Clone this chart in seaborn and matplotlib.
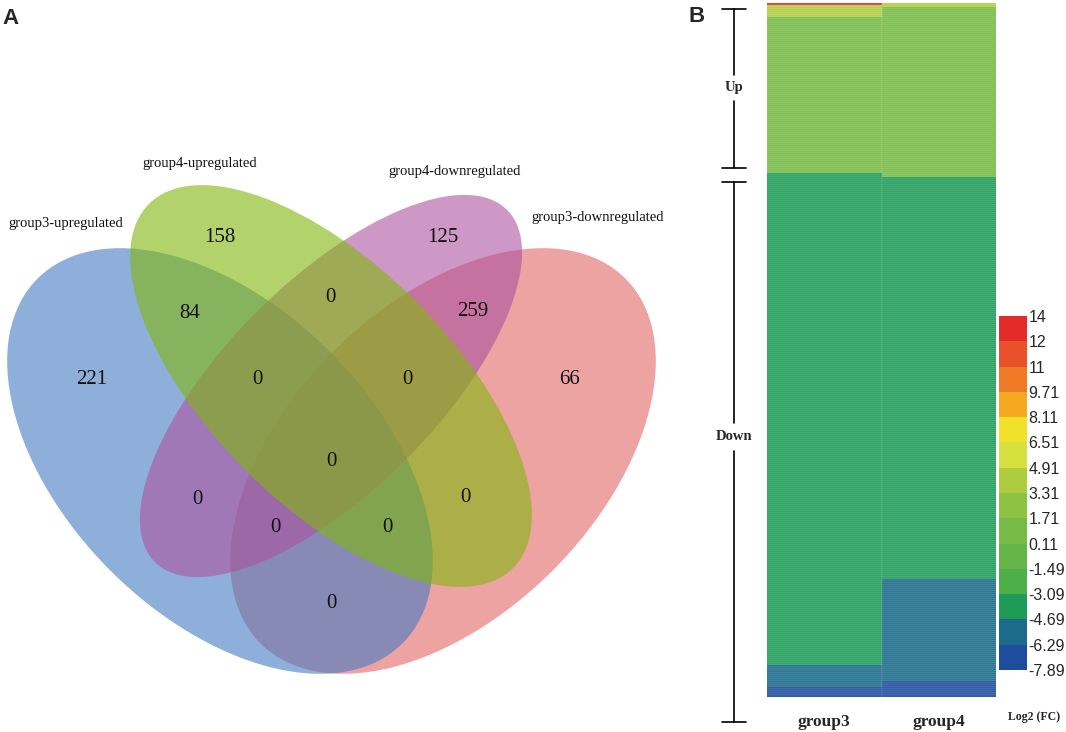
import numpy as np
import pandas as pd
import matplotlib
matplotlib.use("Agg")
import matplotlib.pyplot as plt
import seaborn as sns
from matplotlib.patches import Ellipse
from matplotlib.colors import ListedColormap, BoundaryNorm

# ---------------- data ----------------
# Venn (panel A)
set_names = ["group3-upregulated", "group4-upregulated",
             "group4-downregulated", "group3-downregulated"]
region_keys = ["A", "B", "C", "D", "AB", "BC", "CD", "ABC", "BCD",
               "AC", "BD", "ABCD", "ACD", "ABD", "AD"]
region_counts = [221, 158, 125, 66, 84, 0, 259, 0, 0, 0, 0, 0, 0, 0, 0]

# Heatmap (panel B): blocks of consecutive genes with their log2 FC
heat_columns = ["group3", "group4"]
block_rows = [1, 1, 5, 78, 2, 201, 43, 8, 3, 5]
group3_log2fc = [13.0, 4.0, 4.0, 1.0, -3.9, -3.9, -3.9, -5.5, -5.5, -7.0]
group4_log2fc = [4.0, 4.0, 1.0, 1.0, 1.0, -3.9, -5.5, -5.5, -7.0, -7.0]
direction_labels = ["Up", "Down"]

scale_bounds = [-7.89, -6.29, -4.69, -3.09, -1.49, 0.11, 1.71, 3.31,
                4.91, 6.51, 8.11, 9.71, 11, 12, 14]
scale_labels = ["-7.89", "-6.29", "-4.69", "-3.09", "-1.49", "0.11", "1.71",
                "3.31", "4.91", "6.51", "8.11", "9.71", "11", "12", "14"]
scale_colors = ["#1E4D9E", "#1B6B8B", "#1F9B58", "#4CAF4A", "#65B548",
                "#77BB47", "#8DC343", "#AECD3E", "#D6E03F", "#F2E12A",
                "#F6A81F", "#EE7A26", "#E9512A", "#E52A2A"]

# ---------------- layout / style ----------------
W, H = 1066, 732
SERIF = ["Liberation Serif", "DejaVu Serif"]
SANS = ["Liberation Sans", "DejaVu Sans"]

sns.set_theme(style="white")
plt.rcParams["font.family"] = SANS

fig = plt.figure(figsize=(W / 100, H / 100), dpi=100)
fig.patch.set_facecolor("white")

canvas = fig.add_axes([0, 0, 1, 1], zorder=0)
canvas.set_xlim(0, W)
canvas.set_ylim(H, 0)
canvas.axis("off")

# ellipses: (center, width, height, angle, color), drawn bottom->top
ellipse_layout = {
    "D": ((443, 461), 516, 310, -45, "#E46666"),
    "A": ((220, 461), 516, 310, 45, "#447AC3"),
    "C": ((331, 386), 498, 210, -45, "#AC52A0"),
    "B": ((331, 386), 515, 240, 45, "#80B70A"),
}
for key, (c, w, h, ang, col) in ellipse_layout.items():
    canvas.add_patch(Ellipse(c, w, h, angle=ang, facecolor=col,
                             edgecolor="none", alpha=0.6))

region_pos = {
    "A": (92, 380), "B": (220, 237), "C": (443, 237), "D": (570, 380),
    "AB": (190, 313), "BC": (330, 297), "CD": (473, 312),
    "ABC": (257, 380), "BCD": (407, 380), "AC": (197, 500),
    "BD": (465, 498), "ABCD": (331, 461), "ACD": (275, 528),
    "ABD": (387, 528), "AD": (331, 603),
}
for key, n in zip(region_keys, region_counts):
    x, y = region_pos[key]
    canvas.text(x, y, str(n), ha="center", va="center", fontsize=15,
                family=SERIF, color="#111111")

set_label_pos = [(66, 224), (200, 163), (455, 172), (598, 217)]
for name, (x, y) in zip(set_names, set_label_pos):
    canvas.text(x, y, name, ha="center", va="center", fontsize=10.5,
                family=SERIF, color="#111111")

canvas.text(2, 18, "A", ha="left", va="center", fontsize=16,
            fontweight="bold", family=SANS)
canvas.text(688, 16, "B", ha="left", va="center", fontsize=16,
            fontweight="bold", family=SANS)

# brackets for Up / Down
def bracket(y0, y1, ytxt, label, gap):
    x = 734
    canvas.plot([x, x], [y0, ytxt - gap], color="black", lw=1.2)
    canvas.plot([x, x], [ytxt + gap, y1], color="black", lw=1.2)
    for yy in (y0, y1):
        canvas.plot([x - 12, x + 12], [yy, yy], color="black", lw=1.2)
    canvas.text(x, ytxt, label, ha="center", va="center", fontsize=10.5,
                fontweight="bold", family=SERIF)

bracket(9, 168, 88, direction_labels[0], 13)
bracket(182, 722, 437, direction_labels[1], 14)

canvas.text(1034, 717, "Log2 (FC)", ha="center", va="center", fontsize=8.5,
            fontweight="bold", family=SERIF)

# ---------------- heatmap ----------------
hm_l, hm_r, hm_t, hm_b = 767, 996, 3, 697
ax_hm = fig.add_axes([hm_l / W, 1 - hm_b / H, (hm_r - hm_l) / W,
                      (hm_b - hm_t) / H], zorder=2)
cb_l, cb_r, cb_t, cb_b = 999, 1027, 316, 670
ax_cb = fig.add_axes([cb_l / W, 1 - cb_b / H, (cb_r - cb_l) / W,
                      (cb_b - cb_t) / H], zorder=2)

df = pd.DataFrame({
    heat_columns[0]: np.repeat(np.asarray(group3_log2fc, dtype=float), block_rows),
    heat_columns[1]: np.repeat(np.asarray(group4_log2fc, dtype=float), block_rows),
})
cmap = ListedColormap(scale_colors)
norm = BoundaryNorm(scale_bounds, cmap.N)

sns.heatmap(df, ax=ax_hm, cbar_ax=ax_cb, cmap=cmap, norm=norm,
            linewidths=0.2, linecolor=(1, 1, 1, 0.09),
            yticklabels=False, xticklabels=heat_columns,
            cbar_kws={"ticks": scale_bounds, "spacing": "uniform"})

ax_hm.set_xlabel("")
ax_hm.set_ylabel("")
ax_hm.tick_params(axis="x", length=0, pad=12)
for t in ax_hm.get_xticklabels():
    t.set_rotation(0)
    t.set_fontfamily(SERIF)
    t.set_fontweight("bold")
    t.set_fontsize(12.5)

cb = ax_hm.collections[0].colorbar
cb.set_ticks(scale_bounds)
cb.set_ticklabels(scale_labels)
cb.outline.set_visible(False)
cb.ax.tick_params(length=0, pad=1, labelsize=11.5)
for t in cb.ax.get_yticklabels():
    t.set_fontfamily(SANS)

fig.savefig("out.png", dpi=100, facecolor="white")
